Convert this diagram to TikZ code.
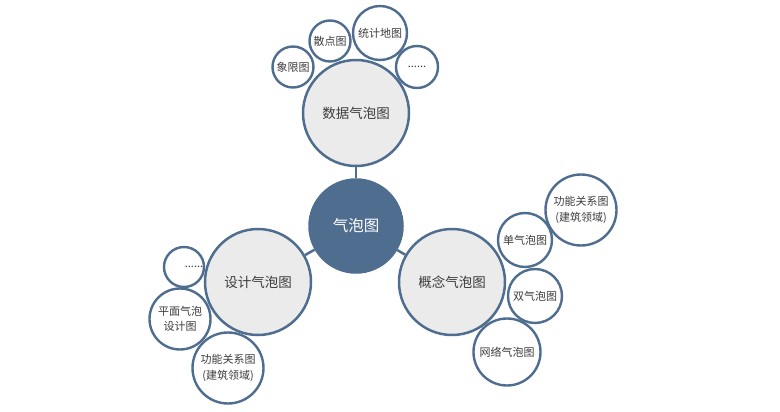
\documentclass[tikz,border=0pt]{standalone}
\usepackage{fontspec}
\newfontfamily\cjk{Noto Sans CJK SC}
\usetikzlibrary{positioning}
\definecolor{bubbleblue}{HTML}{4E6D8F}
\definecolor{bubblegray}{HTML}{EBEBEB}
\definecolor{textgray}{HTML}{3C3C3C}

\begin{document}
\begin{tikzpicture}[
  x=1pt, y=-1pt,
  hub/.style={draw=bubbleblue, fill=bubbleblue, circle, line width=2.5pt, minimum size=93pt, inner sep=0pt, text=white, font=\cjk\fontsize{15.5}{18}\selectfont},
  topic/.style={draw=bubbleblue, fill=bubblegray, circle, line width=2.5pt, minimum size=106pt, inner sep=0pt, text=textgray, font=\cjk\fontsize{13.5}{16}\selectfont},
  leaf/.style={draw=bubbleblue, fill=white, circle, line width=2.4pt, minimum size=#1, inner sep=0pt, text=textgray, align=center, font=\cjk\fontsize{11}{16}\selectfont},
  leaf/.default=42pt,
  link/.style={draw=bubbleblue, line width=2.5pt}
]
\useasboundingbox (0,0) rectangle (780,412);

% small bubbles
\node[leaf=41pt] (quad)   at (293,67)  {象限图};
\node[leaf=41pt] (scat)   at (330,41)  {散点图};
\node[leaf=54pt] (map)    at (380,33)  {统计地图};
\node[leaf=42pt] (dotsA)  at (417,67)  {......};
\node[leaf=54pt] (single) at (525,240) {单气泡图};
\node[leaf=71pt] (funcA)  at (581,210) {功能关系图\\(建筑领域)};
\node[leaf=54pt] (double) at (535,296) {双气泡图};
\node[leaf=67pt] (net)    at (507,352) {网络气泡图};
\node[leaf=40pt] (dotsB)  at (184,267) {\hspace*{20pt}......};
\node[leaf=61pt, font=\cjk\fontsize{11}{15}\selectfont] (plane) at (180,319) {平面气泡\\设计图};
\node[leaf=71pt] (funcB)  at (228,368) {功能关系图\\(建筑领域)};

% main bubbles
\node[hub]   (hub)     at (356,226) {气泡图};
\node[topic] (data)    at (356,113) {数据气泡图};
\node[topic] (concept) at (452,282) {概念气泡图};
\node[topic] (design)  at (258,282) {设计气泡图};

\draw[link] (hub) -- (data);
\draw[link] (hub) -- (concept);
\draw[link] (hub) -- (design);
\end{tikzpicture}
\end{document}
